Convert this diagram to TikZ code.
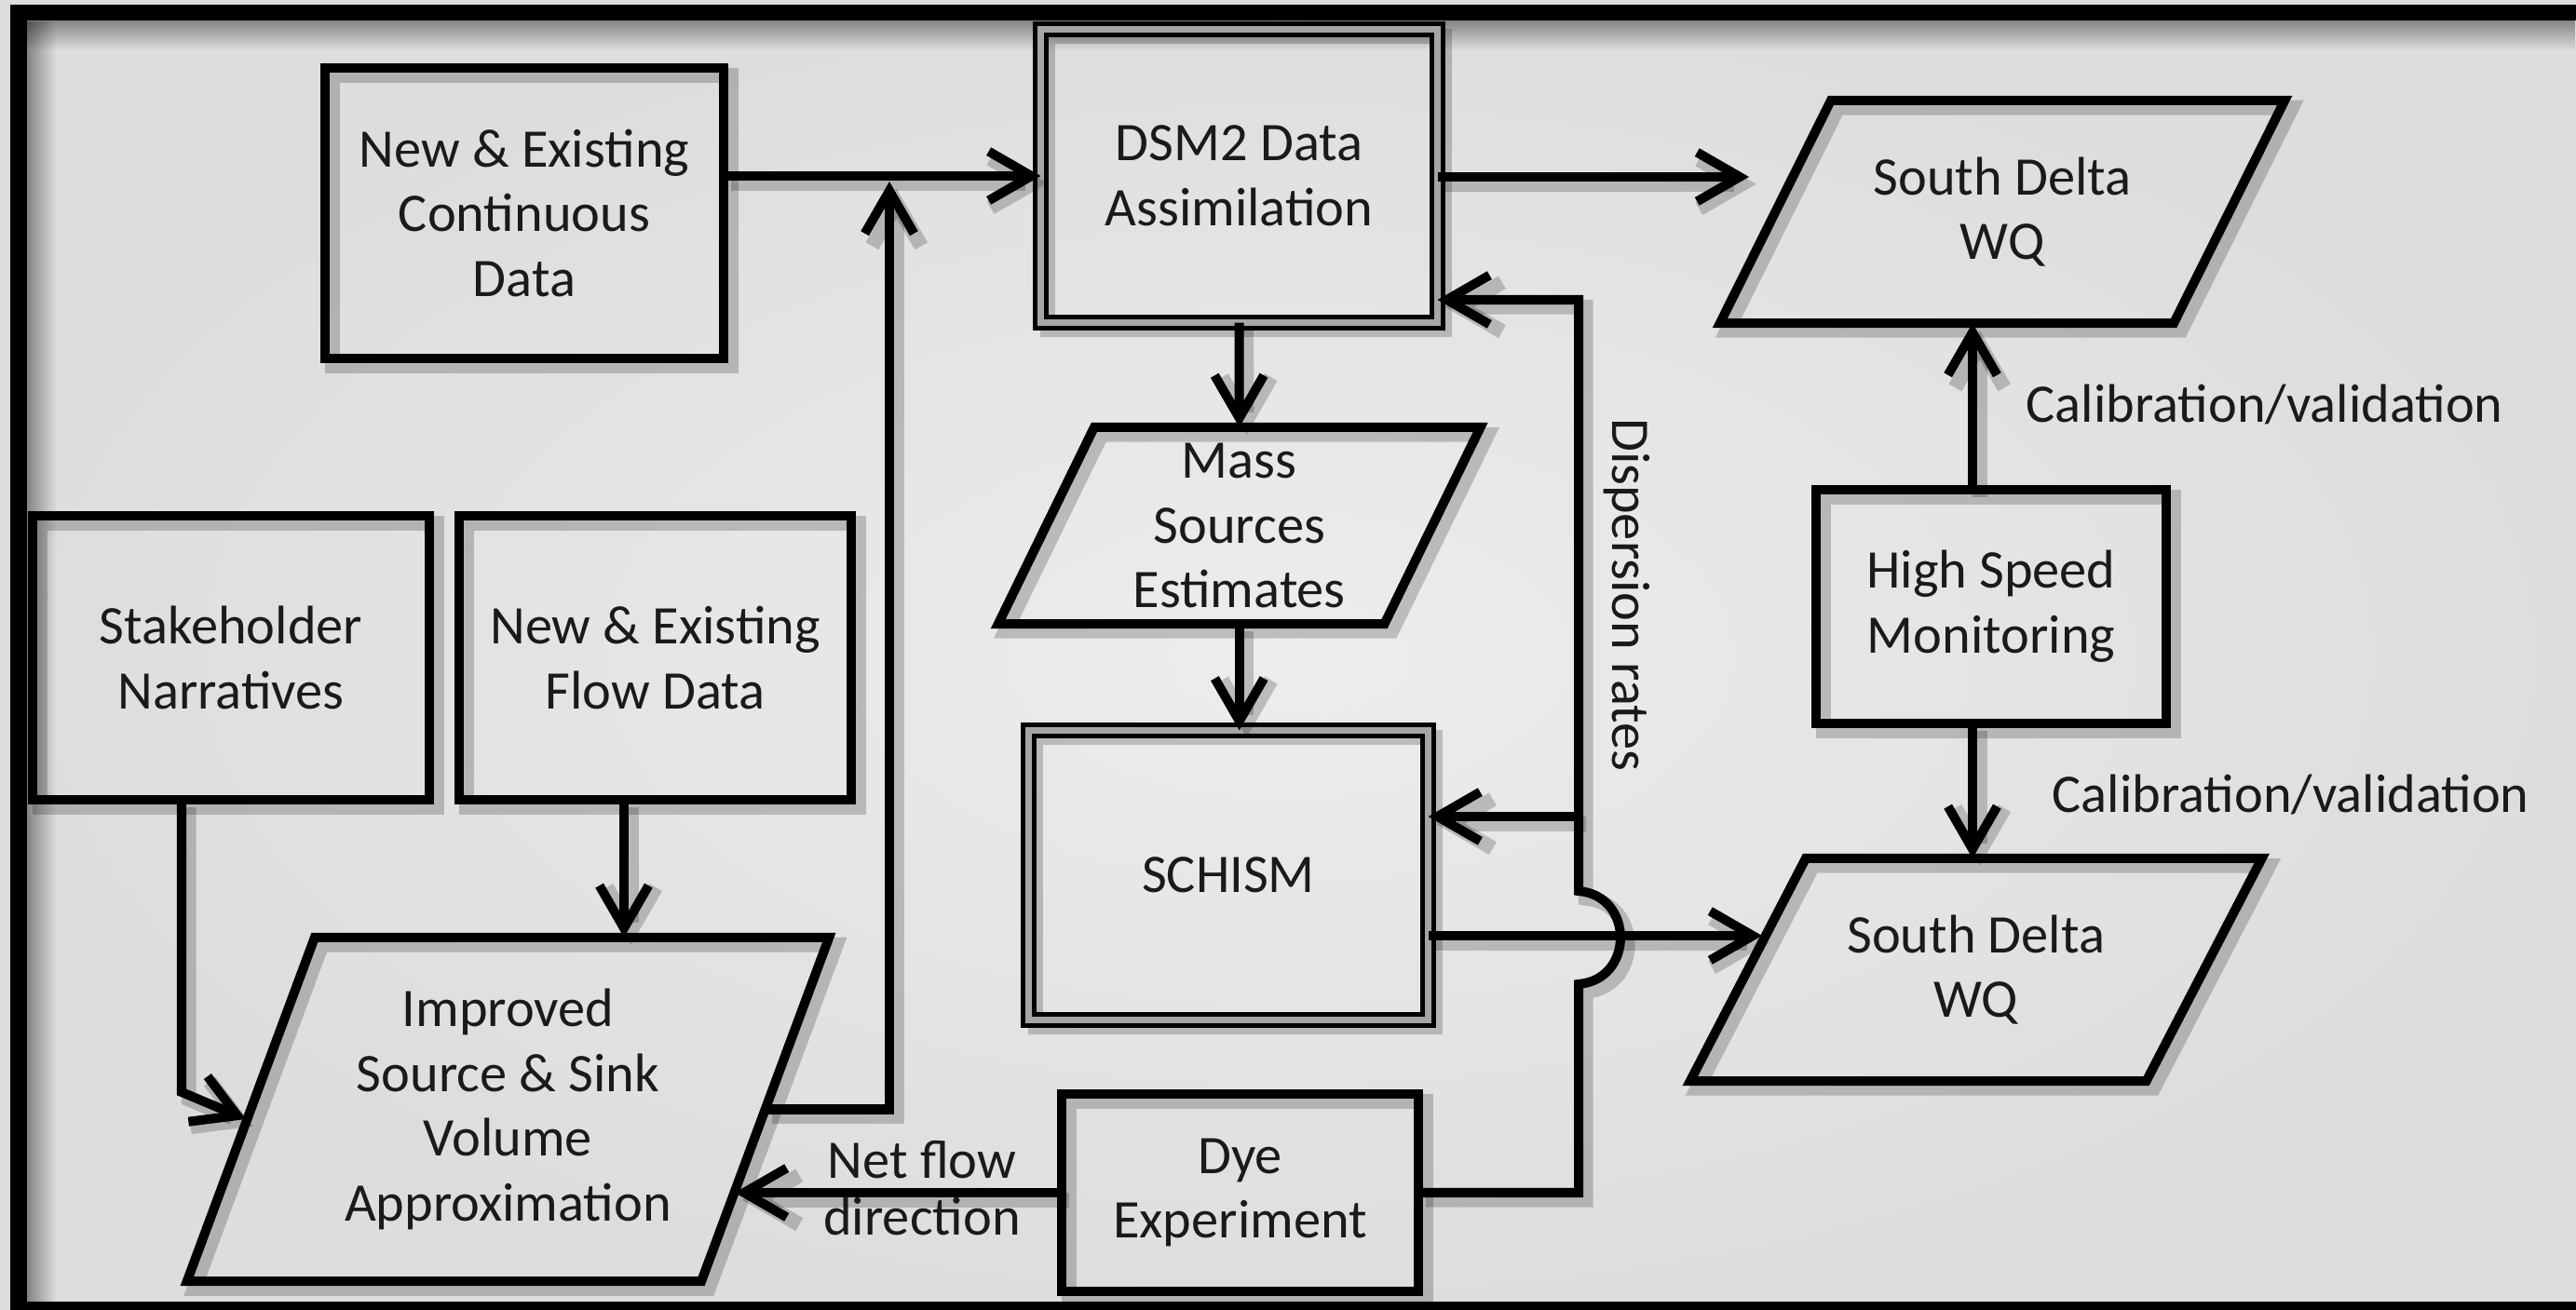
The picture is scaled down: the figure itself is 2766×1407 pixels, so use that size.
\documentclass[tikz,border=0pt]{standalone}
\usepackage{fontspec}
\setmainfont{Carlito}
\usetikzlibrary{arrows.meta,calc,fadings}
\definecolor{txt}{HTML}{1A1A1A}
\definecolor{bgin}{HTML}{EDEDED}
\definecolor{bgout}{HTML}{DDDDDD}
\definecolor{gapgray}{HTML}{A5A5A5}

\tikzset{
  every node/.style={font=\fontsize{16.6}{19.8}\selectfont, text=txt},
  shadowline/.style={preaction={draw=black, draw opacity=0.2, line width=4.5pt,
      transform canvas={shift={(2.2pt,-2.2pt)}}}},
  box/.style={draw=black, line width=2.85pt, inner sep=0pt, outer sep=0pt,
      align=center, shadowline},
  dbox/.style={box, line width=1.42pt, double=gapgray, double distance=2pt},
  slab/.style={inner sep=0pt, outer sep=0pt, align=center},
  paraline/.style={draw=black, line width=2.85pt, line join=miter, shadowline},
  arr/.style={draw=black, line width=2.85pt,
      -{Straight Barb[length=13pt, width=15pt]}, shadowline},
  lab/.style={inner sep=0pt, align=center},
}

% parallelogram outline around a rectangular text node; #2 = half of the slant
\newcommand\drawpara[2]{%
  \draw[paraline] ([xshift=#2]#1.north west) -- ([xshift=#2]#1.north east)
    -- ([xshift=-#2]#1.south east) -- ([xshift=-#2]#1.south west) -- cycle;}

\begin{document}
\begin{tikzpicture}[x=0.01cm, y=-0.01cm]
\useasboundingbox (0,0) rectangle (2766,1407);

% background and frame
\shade[inner color=bgin, outer color=bgout] (0,0) rectangle (2766,1407);
\fill[black, path fading=south, fill opacity=0.4] (29,22) rectangle (2766,54);
\fill[black, path fading=east, fill opacity=0.4] (29,22) rectangle (60,1398);
\fill[black] (11,5) rectangle (2766,22);
\fill[black] (11,5) rectangle (29,1407);
\fill[black] (11,1398) rectangle (2766,1407);

% rectangular boxes
\node[box, minimum width=4.28cm, minimum height=3.12cm] (cont) at (563,229)
  {New \& Existing\\Continuous\\Data};
\node[dbox, minimum width=4.26cm, minimum height=3.15cm] (dsm2) at (1330.5,189)
  {DSM2 Data\\Assimilation};
\node[box, minimum width=4.26cm, minimum height=3.05cm] (stake) at (248,706.5)
  {Stakeholder\\Narratives};
\node[box, minimum width=4.21cm, minimum height=3.05cm] (flow) at (703.5,706.5)
  {New \& Existing\\Flow Data};
\node[dbox, minimum width=4.29cm, minimum height=3.11cm] (schism) at (1319,940)
  {SCHISM};
\node[box, minimum width=3.83cm, minimum height=2.12cm] (dye) at (1331.5,1281)
  {Dye\\Experiment};
\node[box, minimum width=3.76cm, minimum height=2.51cm] (hs) at (2138,651.5)
  {High Speed\\Monitoring};

% parallelogram boxes
\node[slab, minimum width=4.87cm, minimum height=2.39cm] (wq1) at (2150,227.5)
  {South Delta\\WQ};
\drawpara{wq1}{0.595cm}
\node[slab, minimum width=4.895cm, minimum height=2.39cm] (wq2) at (2121.75,1041.5)
  {South Delta\\WQ};
\drawpara{wq2}{0.62cm}
\node[slab, minimum width=4.145cm, minimum height=2.11cm] (mass) at (1330.75,564.5)
  {Mass\\Sources\\Estimates};
\drawpara{mass}{0.515cm}
\node[slab, minimum width=5.52cm, minimum height=3.69cm] (imp) at (545.5,1191.5)
  {Improved\\Source \& Sink\\Volume\\Approximation};
\drawpara{imp}{0.685cm}

% helper points for bends and slanted-edge ends
\coordinate (jA) at (955,195);
\coordinate (wq1in) at (1878,190);
\coordinate (sbend) at (195,1173);
\coordinate (impL) at (264,1202);
\coordinate (fx) at (670,900);
\coordinate (impR) at (789,1281);
\coordinate (vB) at (1695,1281);
\coordinate (jmpLo) at (1695,1057);
\coordinate (jmpHi) at (1695,957);
\coordinate (vT) at (1695,322);
\coordinate (vS) at (1695,877);
\coordinate (wq2in) at (1892,1005);
\coordinate (hsx) at (2118,600);

% connectors
\draw[arr] (cont.east |- dsm2.west) -- (dsm2.west);
\draw[arr] (imp.east) -| (jA);
\draw[arr] (dsm2.east |- wq1in) -- (wq1in);
\draw[arr] (dsm2.south) -- (mass.north);
\draw[arr] (mass.south) -- (mass.south |- schism.north);
\draw[arr] (stake.south -| sbend) -- (sbend) -- (impL);
\draw[arr] (flow.south -| fx) -- (fx |- imp.north);
\draw[arr] (dye.west) -- (impR);
\draw[arr] (dye.east) -- (vB) -- (jmpLo)
  .. controls (1755,1052) and (1755,962) .. (jmpHi) -- (vT) -- (vT -| dsm2.east);
\draw[arr] (vS) -- (vS -| schism.east);
\draw[arr] (schism.east |- wq2in) -- (wq2in);
\draw[arr] (hs.north -| hsx) -- (hsx |- wq1.south);
\draw[arr] (hs.south -| hsx) -- (hsx |- wq2.north);

% connector labels
\node[lab, anchor=west] (cal1) at (2175,434) {Calibration/validation};
\node[lab, anchor=west] (cal2) at (2203,853) {Calibration/validation};
\node[lab, font=\fontsize{16.6}{17.5}\selectfont] (net) at (990,1276) {Net flow\\direction};
\node[lab, rotate=-90] (disp) at (1747,639) {Dispersion rates};
\end{tikzpicture}
\end{document}
